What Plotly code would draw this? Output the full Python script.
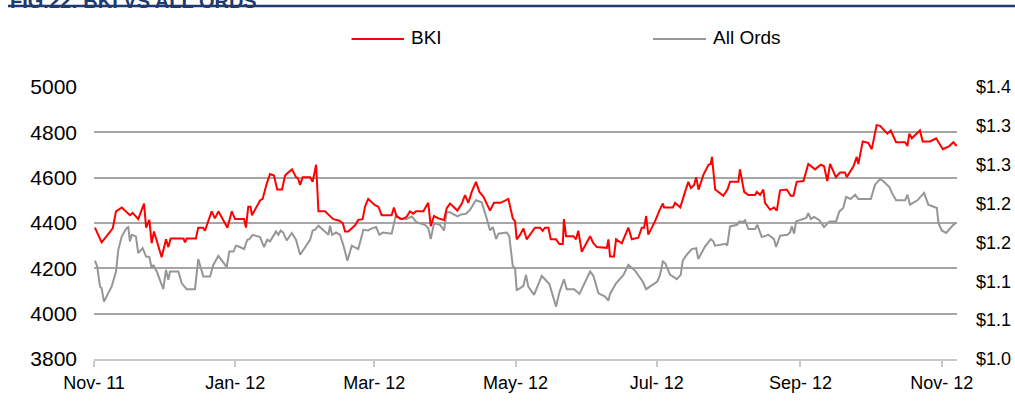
import pandas as pd
import plotly.graph_objects as go

# ---------------- data ----------------
start_date = "2011-11-01"

# BKI share price ($), right axis; x = days since start_date
bki_day = [0.4, 3.3, 8.1, 9.5, 12.0, 15.5, 16.7, 18.1, 19.1, 21.6, 22.5, 23.9, 24.9, 25.9, 29.2,
           31.1, 32.1, 33.1, 38.6, 39.3, 40.0, 44.0, 45.0, 47.1, 47.9, 50.8, 52.2, 53.7, 57.6,
           59.5, 60.9, 63.0, 64.8, 65.6, 66.6, 67.6, 68.2, 71.7, 72.8, 74.6, 76.0, 77.7, 79.1,
           81.2, 82.5, 83.5, 85.5, 87.2, 88.1, 89.0, 90.1, 93.3, 94.4, 95.9, 96.9, 99.7, 101.9,
           103.3, 105.9, 107.4, 108.4, 109.8, 112.7, 114.1, 116.0, 117.0, 118.4, 121.3, 122.8,
           124.2, 128.5, 129.5, 130.7, 132.9, 135.0, 136.4, 137.9, 139.0, 142.2, 144.3, 145.4,
           146.8, 148.7, 151.1, 152.3, 153.7, 156.9, 158.8, 160.2, 161.6, 163.1, 164.9, 166.4,
           168.1, 171.0, 172.7, 175.6, 178.9, 180.8, 181.8, 182.5, 184.0, 185.4, 186.8, 190.4,
           192.6, 193.7, 194.7, 196.2, 197.2, 199.5, 200.9, 202.4, 202.9, 203.8, 207.0, 208.1,
           209.1, 210.6, 214.2, 215.6, 217.1, 221.4, 222.1, 222.8, 224.5, 225.4, 227.9, 230.7,
           232.2, 235.0, 236.5, 237.5, 238.4, 239.3, 242.2, 244.1, 245.6, 246.1, 249.9, 250.9,
           253.1, 255.2, 256.6, 257.7, 259.1, 260.0, 261.0, 263.1, 265.3, 266.3, 266.8, 268.2,
           271.7, 273.5, 274.6, 278.2, 278.9, 280.7, 282.5, 285.4, 286.2, 287.6, 289.0, 289.7,
           291.9, 293.6, 294.8, 296.2, 299.1, 300.8, 302.0, 303.4, 306.3, 308.4, 311.3, 313.8,
           315.2, 316.6, 317.8, 320.3, 322.1, 324.2, 325.0, 327.9, 329.3, 330.0, 331.9, 334.3,
           335.8, 337.9, 339.4, 342.5, 344.0, 346.3, 350.2, 351.2, 352.0, 353.1, 356.6, 357.8,
           361.0, 363.6, 365.0, 366.5, 369.3, 371.0, 372.5]
bki_price = [1.169, 1.150, 1.168, 1.190, 1.195, 1.185, 1.188, 1.183, 1.180, 1.200, 1.169, 1.179,
             1.149, 1.164, 1.131, 1.154, 1.144, 1.155, 1.155, 1.150, 1.155, 1.155, 1.169, 1.169,
             1.165, 1.190, 1.181, 1.190, 1.169, 1.190, 1.180, 1.180, 1.180, 1.169, 1.196, 1.196,
             1.185, 1.204, 1.206, 1.226, 1.238, 1.236, 1.218, 1.218, 1.236, 1.239, 1.244, 1.234,
             1.232, 1.224, 1.234, 1.234, 1.228, 1.250, 1.190, 1.190, 1.184, 1.180, 1.178, 1.175,
             1.164, 1.164, 1.172, 1.179, 1.180, 1.196, 1.206, 1.198, 1.196, 1.185, 1.185, 1.195,
             1.183, 1.180, 1.183, 1.190, 1.187, 1.190, 1.190, 1.201, 1.171, 1.184, 1.181, 1.179,
             1.194, 1.200, 1.191, 1.200, 1.211, 1.201, 1.215, 1.228, 1.215, 1.209, 1.191, 1.201,
             1.201, 1.206, 1.181, 1.177, 1.154, 1.160, 1.168, 1.154, 1.169, 1.169, 1.165, 1.169,
             1.169, 1.154, 1.154, 1.148, 1.148, 1.180, 1.158, 1.158, 1.154, 1.165, 1.138, 1.158,
             1.149, 1.144, 1.143, 1.154, 1.132, 1.132, 1.154, 1.149, 1.169, 1.154, 1.156, 1.169,
             1.169, 1.184, 1.160, 1.177, 1.191, 1.200, 1.195, 1.195, 1.201, 1.195, 1.215, 1.228,
             1.220, 1.224, 1.234, 1.218, 1.237, 1.250, 1.251, 1.260, 1.218, 1.210, 1.218, 1.228,
             1.228, 1.244, 1.215, 1.211, 1.211, 1.215, 1.211, 1.218, 1.201, 1.192, 1.195, 1.191,
             1.217, 1.218, 1.210, 1.210, 1.228, 1.229, 1.251, 1.244, 1.250, 1.248, 1.229, 1.251,
             1.234, 1.240, 1.240, 1.234, 1.248, 1.260, 1.251, 1.280, 1.278, 1.270, 1.301, 1.300,
             1.290, 1.294, 1.279, 1.279, 1.274, 1.290, 1.284, 1.294, 1.280, 1.280, 1.284, 1.278,
             1.270, 1.274, 1.279, 1.274]

# All Ordinaries index, left axis; x = days since start_date
ords_day = [0.4, 1.4, 2.6, 3.3, 4.3, 7.6, 9.5, 10.5, 12.0, 14.1, 14.8, 15.5, 16.3, 18.1, 19.1,
            21.0, 22.5, 23.9, 24.9, 25.6, 27.1, 29.9, 31.1, 32.1, 32.8, 36.4, 37.9, 40.0, 43.6,
            45.0, 47.2, 50.1, 51.5, 53.7, 57.3, 58.4, 60.2, 61.3, 63.0, 64.8, 66.2, 67.1, 68.5,
            71.7, 73.4, 74.8, 76.0, 78.6, 79.6, 80.6, 81.7, 83.2, 85.4, 87.2, 89.0, 93.3, 94.4,
            95.4, 96.9, 99.7, 101.2, 101.9, 102.8, 104.5, 106.2, 107.6, 109.4, 111.3, 114.1,
            116.3, 118.4, 119.2, 121.3, 121.8, 123.2, 124.7, 128.5, 130.4, 132.1, 135.0, 137.2,
            139.3, 142.9, 144.3, 145.4, 146.8, 149.4, 151.1, 152.3, 153.7, 156.9, 158.3, 160.6,
            162.4, 164.9, 167.4, 169.3, 171.0, 172.2, 173.6, 174.6, 178.2, 179.3, 180.8, 181.8,
            182.5, 183.9, 185.4, 186.5, 187.5, 190.0, 193.3, 196.6, 199.5, 200.9, 202.9, 204.1,
            207.3, 209.6, 214.2, 215.6, 217.8, 220.7, 222.1, 222.8, 225.4, 228.6, 230.7, 233.6,
            236.9, 238.4, 242.2, 243.2, 244.3, 245.6, 246.6, 248.7, 250.4, 251.6, 253.3, 254.2,
            255.9, 258.1, 260.0, 260.9, 263.8, 266.3, 267.4, 268.1, 272.9, 273.4, 274.6, 277.7,
            278.6, 280.1, 281.1, 282.5, 285.4, 286.4, 288.3, 291.2, 293.6, 294.5, 296.2, 299.4,
            300.5, 301.3, 302.3, 303.1, 307.5, 308.4, 309.5, 310.9, 313.2, 315.2, 317.5, 320.4,
            321.8, 323.5, 324.7, 326.7, 328.6, 330.0, 335.4, 337.2, 339.4, 340.8, 343.4, 344.4,
            346.3, 350.2, 351.2, 352.3, 355.5, 358.4, 360.2, 363.9, 364.6, 366.0, 367.9, 371.0,
            372.2]
ords_index = [4234, 4208, 4119, 4112, 4053, 4119, 4186, 4282, 4341, 4378, 4382, 4319, 4348, 4341,
              4267, 4289, 4252, 4250, 4201, 4215, 4186, 4108, 4193, 4149, 4186, 4186, 4134, 4108,
              4108, 4241, 4164, 4164, 4215, 4255, 4205, 4274, 4274, 4300, 4294, 4285, 4326, 4329,
              4348, 4338, 4294, 4326, 4319, 4363, 4348, 4367, 4358, 4323, 4356, 4326, 4260, 4326,
              4367, 4370, 4388, 4363, 4348, 4388, 4348, 4358, 4348, 4304, 4234, 4300, 4285, 4370,
              4367, 4373, 4378, 4382, 4348, 4358, 4353, 4437, 4418, 4418, 4429, 4403, 4392, 4378,
              4329, 4400, 4392, 4367, 4447, 4447, 4429, 4437, 4441, 4459, 4500, 4491, 4429, 4367,
              4382, 4329, 4353, 4358, 4341, 4211, 4201, 4105, 4112, 4123, 4171, 4119, 4083, 4167,
              4131, 4031, 4093, 4152, 4108, 4108, 4087, 4186, 4167, 4090, 4075, 4058, 4087, 4134,
              4171, 4215, 4190, 4142, 4108, 4137, 4142, 4167, 4230, 4223, 4171, 4161, 4152, 4171,
              4234, 4260, 4285, 4289, 4241, 4296, 4329, 4319, 4300, 4308, 4300, 4385, 4392, 4407,
              4403, 4412, 4373, 4373, 4392, 4338, 4348, 4329, 4294, 4344, 4348, 4358, 4385, 4353,
              4407, 4422, 4443, 4418, 4427, 4412, 4382, 4407, 4407, 4451, 4466, 4515, 4506, 4525,
              4506, 4506, 4569, 4594, 4584, 4559, 4535, 4500, 4500, 4525, 4481, 4500, 4533, 4481,
              4466, 4400, 4367, 4356, 4392, 4400]

left_ticks = [3800, 4000, 4200, 4400, 4600, 4800, 5000]
right_ticks = [1.00, 1.05, 1.10, 1.15, 1.20, 1.25, 1.30, 1.35]
right_tick_text = ["$1.0", "$1.1", "$1.1", "$1.2", "$1.2", "$1.3", "$1.3", "$1.4"]
series_names = ["BKI", "All Ords"]
title_text = "FIG.22: BKI VS ALL ORDS"

# ---------------- build ----------------
t0 = pd.Timestamp(start_date)
bki_dates = t0 + pd.to_timedelta(bki_day, unit="D")
ords_dates = t0 + pd.to_timedelta(ords_day, unit="D")

FONT = "Liberation Sans, Arial, sans-serif"
RED = "#FF0000"
GREY = "#969696"
GRID = "#A6A6A6"

fig = go.Figure()
fig.add_trace(go.Scatter(x=ords_dates, y=ords_index, name=series_names[1], mode="lines",
                         line=dict(color=GREY, width=2), yaxis="y", showlegend=False))
fig.add_trace(go.Scatter(x=bki_dates, y=bki_price, name=series_names[0], mode="lines",
                         line=dict(color=RED, width=2), yaxis="y2", showlegend=False))

W, H = 1015, 401
L, R, T, B = 94, 58, 87, 42
pw, ph = W - L - R, H - T - B


def px(xp):
    return (xp - L) / pw


def py(yp):
    return 1 + (T - yp) / ph


fig.update_layout(
    width=W, height=H,
    margin=dict(l=L, r=R, t=T, b=B, autoexpand=False),
    paper_bgcolor="white", plot_bgcolor="white",
    font=dict(family=FONT, size=18, color="#000000"),
    showlegend=False,
    xaxis=dict(
        type="date", automargin=False,
        range=[t0, t0 + pd.Timedelta(days=372.6)],
        tick0=start_date, dtick="M2", tickformat="%b- %y",
        showgrid=False, zeroline=False,
        showline=True, linecolor="#C8C8C8", linewidth=2,
        ticks="outside", ticklen=6, tickcolor="#C8C8C8", tickwidth=2,
        tickfont=dict(size=18), ticklabelstandoff=0,
    ),
    yaxis=dict(
        range=[3800, 5000], tickvals=left_ticks, automargin=False,
        showgrid=True, gridcolor=GRID, gridwidth=2,
        zeroline=False, showline=False, ticks="",
        tickfont=dict(size=21), ticklabelstandoff=16,
    ),
    yaxis2=dict(
        range=[1.0, 1.35], tickvals=right_ticks, ticktext=right_tick_text,
        overlaying="y", side="right", automargin=False,
        showgrid=False, zeroline=False, showline=False, ticks="",
        tickfont=dict(size=18), ticklabelstandoff=18,
    ),
)

# header rule and (mostly cropped) figure title
fig.add_shape(type="line", xref="paper", yref="paper",
              x0=px(8), x1=px(1015), y0=py(6), y1=py(6),
              line=dict(color="#1F3A6E", width=2.5))
fig.add_annotation(text="<b>" + title_text + "</b>", xref="paper", yref="paper",
                   x=px(8), y=py(14), xanchor="left", yanchor="bottom", showarrow=False,
                   font=dict(size=20, color="#1F3A6E", family=FONT))

# legend (drawn manually to match the long sample lines)
legend_items = [(series_names[0], RED, 351.5, 404), (series_names[1], GREY, 653, 706)]
for name, col, xa, xb in legend_items:
    fig.add_shape(type="line", xref="paper", yref="paper",
                  x0=px(xa), x1=px(xb), y0=py(39), y1=py(39),
                  line=dict(color=col, width=2))
    fig.add_annotation(text=name, xref="paper", yref="paper",
                       x=px(xb + 5), y=py(37.5), xanchor="left", yanchor="middle",
                       showarrow=False, font=dict(size=19, color="#000000", family=FONT))

fig.write_html(
    "out.html",
    config={"displayModeBar": False},
    post_script="document.body.style.margin='0';document.body.style.overflow='hidden';",
)
